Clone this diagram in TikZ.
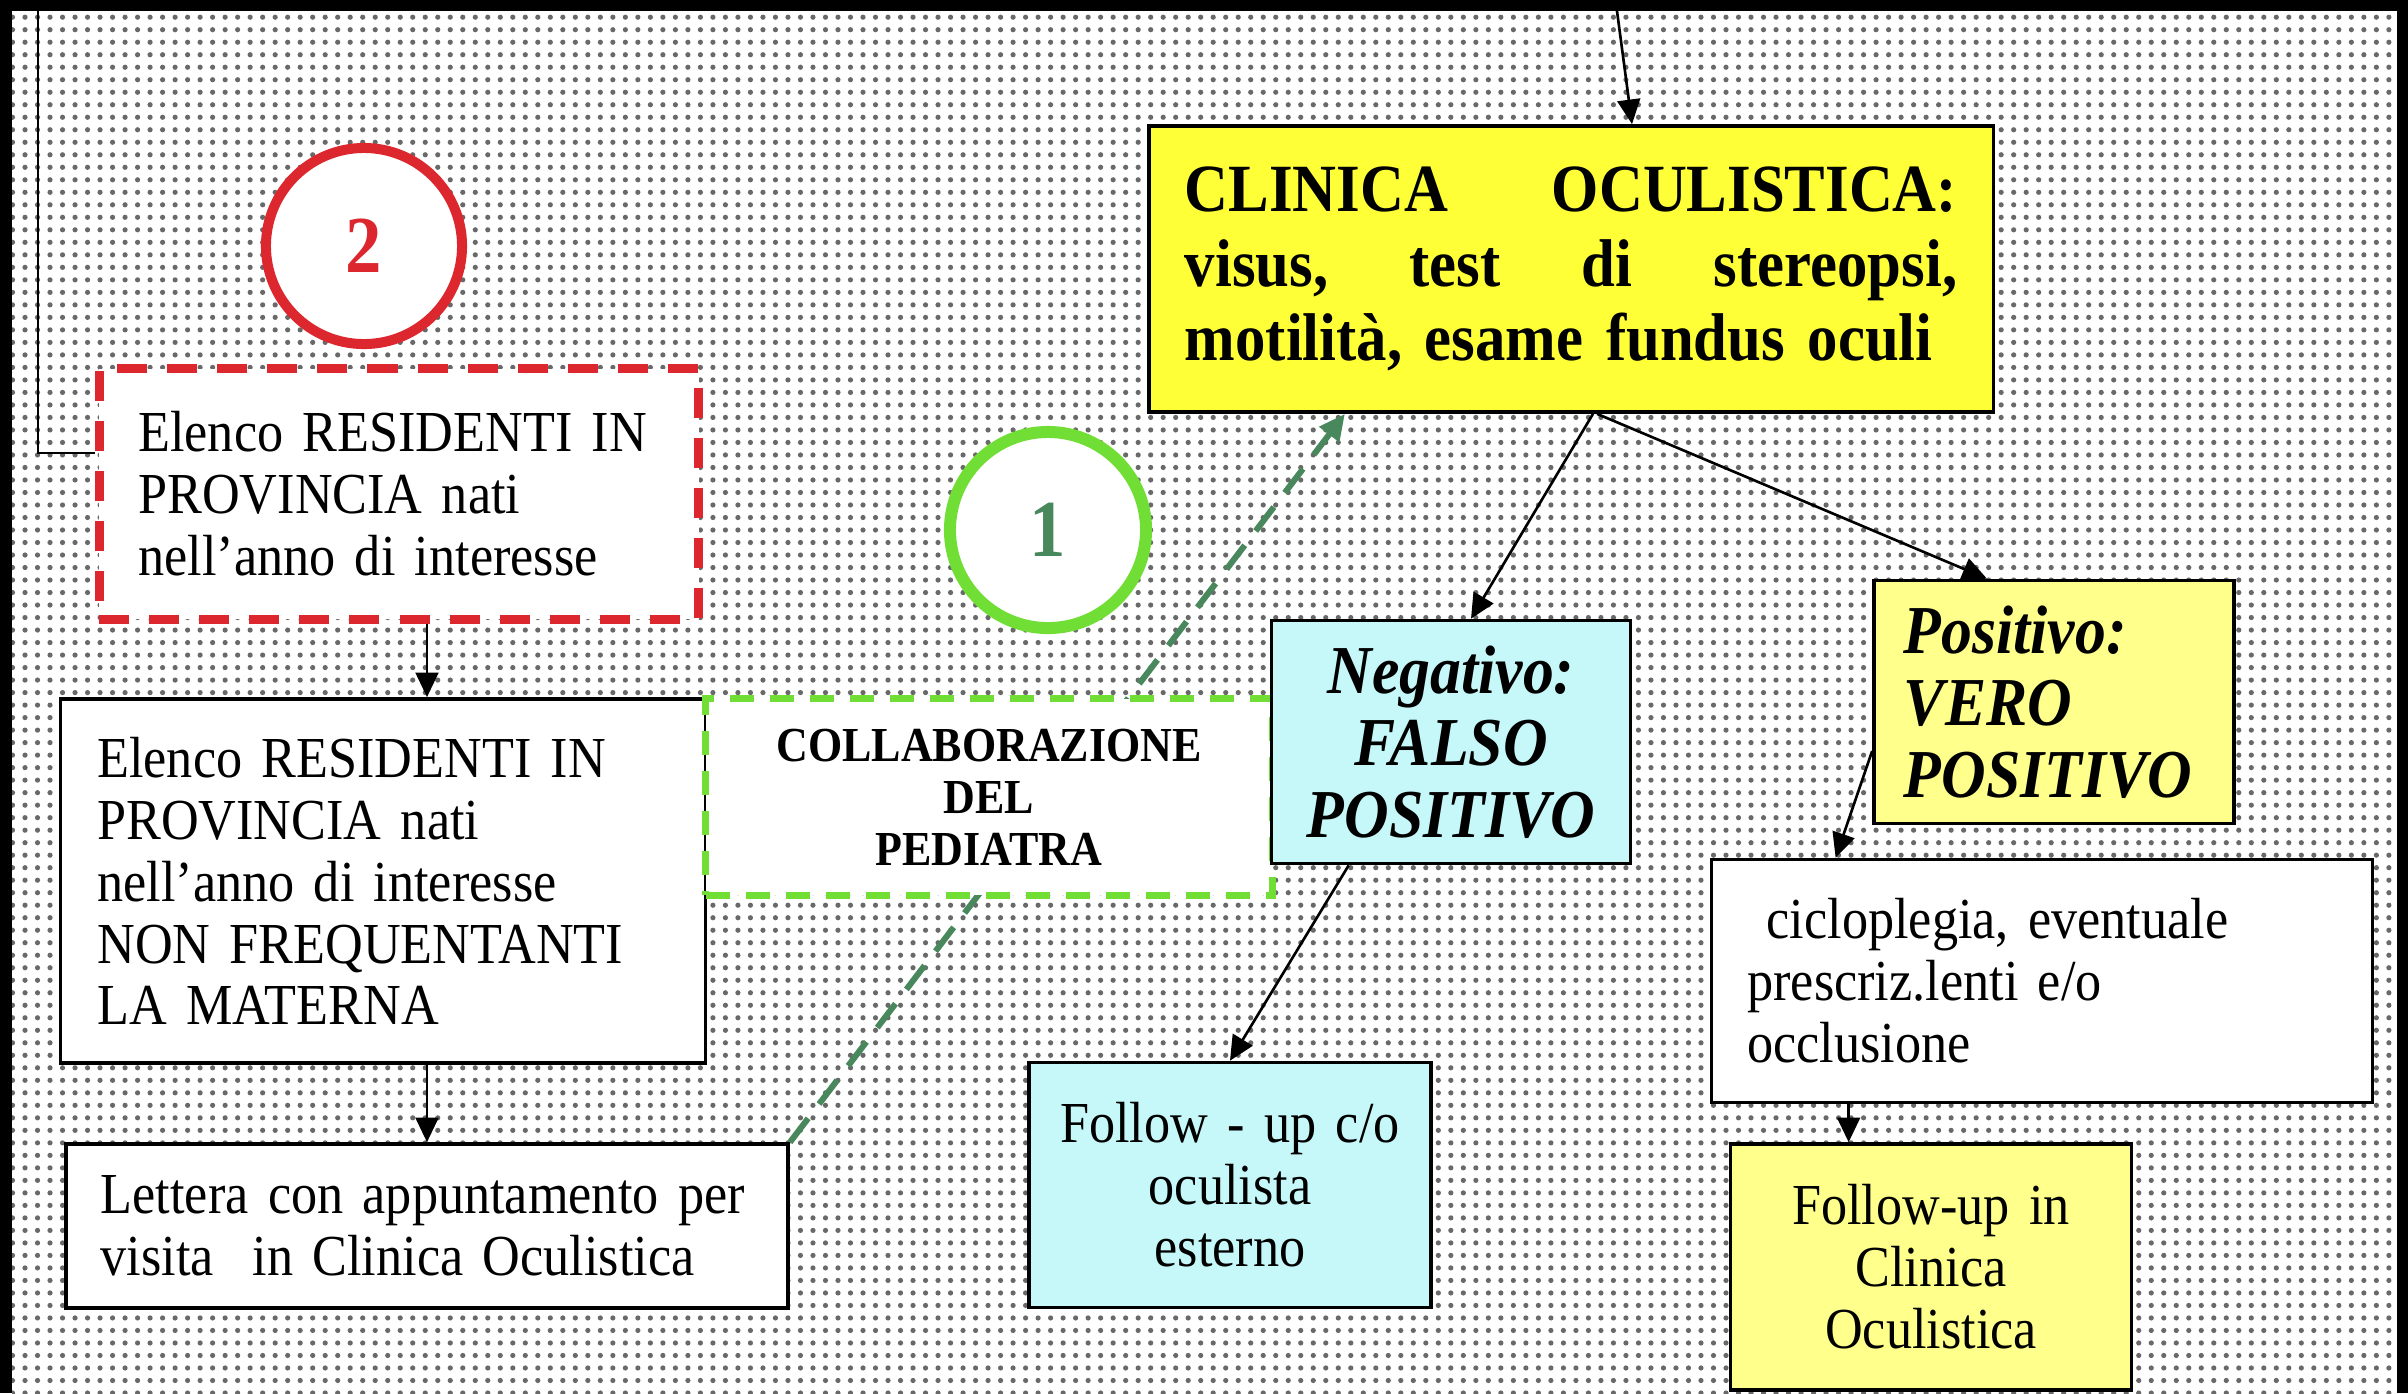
\documentclass[tikz,border=0pt]{standalone}
\usepackage{fontspec}
\setmainfont{Liberation Serif}[FakeStretch=0.9, WordSpace=0.88]
\usetikzlibrary{arrows.meta,patterns.meta}

\definecolor{segnored}{RGB}{219,39,45}
\definecolor{segnogreen}{RGB}{112,222,52}
\definecolor{frecciagreen}{RGB}{72,136,92}
\definecolor{boxcyan}{RGB}{198,248,250}
\definecolor{boxyellow}{RGB}{255,255,56}
\definecolor{boxpale}{RGB}{255,255,140}
\definecolor{dotgray}{RGB}{105,105,105}

\tikzset{
  box/.style={draw, rectangle, line width=1pt, fill=white, inner ysep=0pt},
  testo/.style={font=\fontsize{16.5}{17.6}\selectfont},
  grassetto/.style={font=\bfseries\itshape\fontsize{19.5}{20.5}\selectfont},
  cerchio/.style={circle, fill=white, minimum size=1.96cm, inner sep=0pt, font=\bfseries\fontsize{23}{23}\selectfont},
  arr/.style={line width=0.75pt, -{Triangle[length=7pt,width=6.5pt]}},
}

\begin{document}
\begin{tikzpicture}[x=0.01cm, y=-0.01cm]
\useasboundingbox (0,0) rectangle (2408,1393);
% cornice e sfondo a puntini
\fill[black] (0,0) rectangle (2408,1393);
\fill[white] (12,11) rectangle (2397,1393);
\fill[pattern={Dots[distance=0.125cm, radius=0.026cm]}, pattern color=dotgray] (12,11) rectangle (2397,1393);

% colonna sinistra
\node[cerchio, draw=segnored, line width=0.1cm, text=segnored] (due) at (364,246) {2};
\node[box, testo, draw=segnored, line width=0.09cm, dash pattern=on 0.3cm off 0.2cm,
      minimum width=5.99cm, minimum height=2.5cm, inner xsep=0.39cm, text width=5.21cm, align=left]
      (elenco) at (399,494) {Elenco RESIDENTI IN\\ PROVINCIA nati\\ nell'anno di interesse};
\node[box, testo, minimum width=6.45cm, minimum height=3.64cm, inner xsep=0.37cm, text width=5.71cm, align=left]
      (nonmat) at (383,881) {Elenco RESIDENTI IN\\ PROVINCIA nati\\ nell'anno di interesse\\ NON FREQUENTANTI\\ LA MATERNA};
\node[box, testo, minimum width=7.22cm, minimum height=1.64cm, inner xsep=0.35cm, text width=6.52cm, align=left]
      (lettera) at (427,1226) {Lettera con appuntamento per\\ visita\ \ in Clinica Oculistica};

% clinica
\node[box, fill=boxyellow, minimum width=8.44cm, minimum height=2.86cm, inner xsep=0.36cm, text width=7.72cm, align=left,
      font=\bfseries\fontsize{19.2}{21.2}\selectfont]
      (clinica) at (1571,269) {CLINICA\hfill OCULISTICA:\\ visus,\hfill test\hfill di\hfill stereopsi,\\ motilità, esame fundus oculi\par\vspace*{0.16cm}};

% pediatra
\node[cerchio, draw=segnogreen, line width=0.12cm, text=frecciagreen] (uno) at (1048,530) {1};
\path[draw, frecciagreen, line width=0.06cm, dash pattern=on 0.3cm off 0.18cm, -{Triangle[length=0.26cm,width=0.24cm]}]
      (lettera.north east) -- ([xshift=-2.26cm]clinica.south);
\node[box, draw=segnogreen, line width=0.07cm, dash pattern=on 0.24cm off 0.16cm, minimum width=5.66cm, minimum height=1.96cm,
      text width=5cm, align=center, font=\bfseries\fontsize{13.9}{14.8}\selectfont]
      (pediatra) at (989,797) {COLLABORAZIONE\\ DEL\\ PEDIATRA};

% esiti
\node[box, grassetto, fill=boxcyan, minimum width=3.59cm, minimum height=2.43cm, text width=3cm, align=center]
      (negativo) at (1451,742) {Negativo:\\ FALSO\\ POSITIVO};
\node[box, grassetto, fill=boxpale, minimum width=3.6cm, minimum height=2.43cm, inner xsep=0.3cm, text width=3cm, align=left]
      (positivo) at (2054,702) {Positivo:\\ VERO\\ POSITIVO};
\node[box, testo, minimum width=6.61cm, minimum height=2.43cm, inner xsep=0.36cm, text width=5.89cm, align=left]
      (ciclo) at (2042,981) {\ cicloplegia, eventuale\\ prescriz.lenti e/o\\ occlusione};
\node[box, testo, fill=boxcyan, minimum width=4.02cm, minimum height=2.45cm, text width=3.6cm, align=center]
      (fuext) at (1230,1185) {Follow - up c/o\\ oculista\\ esterno};
\node[box, testo, fill=boxpale, minimum width=4.01cm, minimum height=2.46cm, text width=3.6cm, align=center]
      (fuin) at (1931,1267) {Follow-up in\\ Clinica\\ Oculistica};

% collegamenti
\coordinate (inizioA) at (38,11);
\coordinate (inizioB) at (1617,11);
\coordinate (cicloP) at ([xshift=1.39cm]ciclo.south west);
\path[draw, line width=0.75pt] (inizioA) |- ([yshift=0.41cm]elenco.west);
\path[draw, arr] (inizioB) -- ([xshift=0.61cm]clinica.north);
\path[draw, arr] (elenco.south -| lettera.north) -- (nonmat.north -| lettera.north);
\path[draw, arr] (nonmat.south -| lettera.north) -- (lettera.north);
\path[draw, arr] ([xshift=0.22cm]clinica.south) -- ([xshift=0.2cm]negativo.north);
\path[draw, arr] ([xshift=0.26cm]clinica.south) -- ([xshift=-0.67cm]positivo.north);
\path[draw, arr] ([yshift=-0.49cm]positivo.west) -- ([xshift=1.26cm]ciclo.north west);
\path[draw, arr] ([xshift=0.79cm]negativo.south west) -- (fuext.north);
\path[draw, arr] (cicloP) -- (cicloP |- fuin.north);
\end{tikzpicture}
\end{document}
